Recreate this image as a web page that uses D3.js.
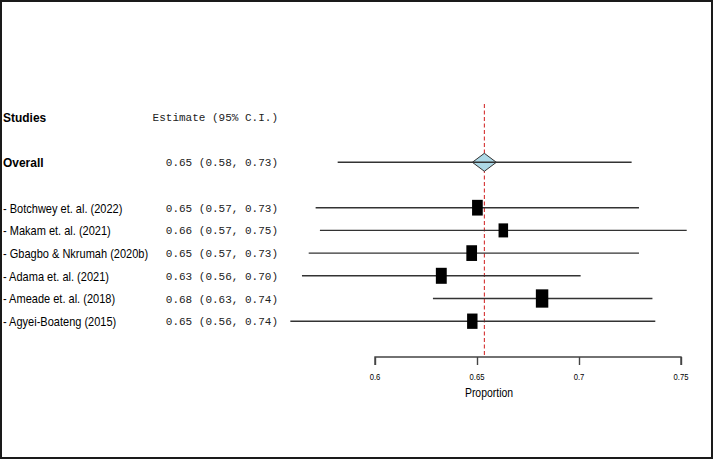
<!DOCTYPE html>
<html>
<head>
<meta charset="utf-8">
<script src="https://cdn.jsdelivr.net/npm/d3@7"></script>
<style>
html,body{margin:0;padding:0;background:#fff;}
svg{display:block;}
</style>
</head>
<body>
<svg id="chart" width="715" height="461"></svg>
<script>
// ---- data ----
const studies = ["Botchwey et. al. (2022)", "Makam et. al. (2021)", "Gbagbo & Nkrumah (2020b)",
                 "Adama et. al. (2021)", "Ameade et. al. (2018)", "Agyei-Boateng (2015)"];
const estimates = [0.6502, 0.6629, 0.6474, 0.6325, 0.6819, 0.6477];
const lower     = [0.5709, 0.5730, 0.5675, 0.5642, 0.6284, 0.5585];
const upper     = [0.7294, 0.7528, 0.7294, 0.7008, 0.7360, 0.7374];
const weights   = [16.3, 13.0, 16.3, 16.9, 22.1, 15.5];
const overall   = {label: "Overall", est: 0.6536, lo: 0.5817, hi: 0.7258};
const xTicks    = [0.6, 0.65, 0.7, 0.75];
const xTickLabels = ["0.6", "0.65", "0.7", "0.75"];
const headers   = ["Studies", "Estimate (95% C.I.)"];
const xTitle    = "Proportion";

// ---- layout ----
const svg = d3.select("#chart");
const fmt = d3.format(".2f");
const x = d3.scaleLinear().domain([0.6, 0.75]).range([375, 681]);
const y = d3.scaleLinear().domain([0, 1]).range([116.9, 139.6]); // row index -> y
const axisY = 357;
const boxH = d3.scaleSqrt().domain([0, d3.max(weights)]).range([0, 18.3]);

// frame
svg.append("rect").attr("x", 1).attr("y", 1).attr("width", 711).attr("height", 457)
  .attr("fill", "none").attr("stroke", "#1a1a1a").attr("stroke-width", 2);

function sansText(txt, tx, ty, size, weight, anchor, sx) {
  svg.append("text")
    .attr("transform", `translate(${tx},${ty}) scale(${sx || 0.9},1)`)
    .attr("font-family", "Liberation Sans, Arial, sans-serif")
    .attr("font-size", size).attr("font-weight", weight || "normal")
    .attr("text-anchor", anchor || "start")
    .attr("fill", "#000").text(txt);
}
function monoText(txt, tx, ty) {
  svg.append("text").attr("x", tx).attr("y", ty)
    .attr("font-family", "Liberation Mono, Courier New, monospace")
    .attr("font-size", 11).attr("text-anchor", "end").attr("fill", "#222").text(txt);
}

// headers
sansText(headers[0], 3, y(0) + 4.8, 13, "bold", "start", 0.92);
monoText(headers[1], 278, y(0) + 4);

// overall row
sansText(overall.label, 3, y(2) + 4.8, 13, "bold", "start", 0.92);
monoText(`${fmt(overall.est)} (${fmt(overall.lo)}, ${fmt(overall.hi)})`, 278, y(2) + 4);

// study labels
studies.forEach((s, i) => {
  sansText("- " + s, 3, y(i + 4) + 4.8, 12.6, "normal", "start", 0.875);
  monoText(`${fmt(estimates[i])} (${fmt(lower[i])}, ${fmt(upper[i])})`, 278, y(i + 4) + 4);
});

// reference dashed line
svg.append("line").attr("x1", x(overall.est)).attr("x2", x(overall.est))
  .attr("y1", 104).attr("y2", axisY)
  .attr("stroke", "#d01c1c").attr("stroke-width", 1).attr("stroke-dasharray", "4,2.5");

// overall diamond + CI
const cy0 = y(2), cx0 = x(overall.est);
svg.append("path")
  .attr("d", `M${cx0 - 12},${cy0} L${cx0},${cy0 - 9} L${cx0 + 12},${cy0} L${cx0},${cy0 + 9} Z`)
  .attr("fill", "#add8e6").attr("stroke", "#333").attr("stroke-width", 1);
svg.append("line").attr("x1", x(overall.lo)).attr("x2", x(overall.hi))
  .attr("y1", cy0).attr("y2", cy0).attr("stroke", "#333").attr("stroke-width", 1.4);

// study CIs and boxes
studies.forEach((s, i) => {
  const cy = y(i + 4);
  svg.append("line").attr("x1", x(lower[i])).attr("x2", x(upper[i]))
    .attr("y1", cy).attr("y2", cy).attr("stroke", "#333").attr("stroke-width", 1.4);
  const h = boxH(weights[i]), w = h * 0.68;
  svg.append("rect").attr("x", x(estimates[i]) - w / 2).attr("y", cy - h / 2)
    .attr("width", w).attr("height", h).attr("fill", "#000");
});

// x axis
const ax = svg.append("g").attr("transform", `translate(0,${axisY})`)
  .call(d3.axisBottom(x).tickValues(xTicks).tickSize(8).tickFormat(() => ""));
ax.select(".domain").attr("stroke", "#444").attr("stroke-width", 1.4).attr("d", `M${x(0.6)},8V0H${x(0.75)}V8`);
ax.selectAll(".tick line").attr("stroke", "#444").attr("stroke-width", 1.4);
xTicks.forEach((t, i) => sansText(xTickLabels[i], x(t), axisY + 23, 9, "normal", "middle", 0.85));
sansText(xTitle, 489, axisY + 40, 12, "normal", "middle", 0.87);
</script>
</body>
</html>
